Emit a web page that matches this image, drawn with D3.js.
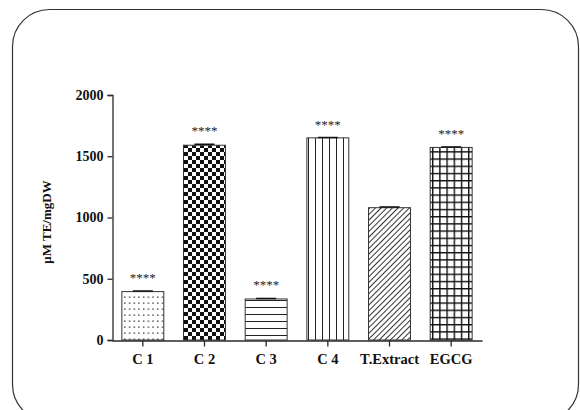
<!DOCTYPE html>
<html>
<head>
<meta charset="utf-8">
<script src="https://cdn.jsdelivr.net/npm/d3@7"></script>
<style>
  html, body { margin: 0; padding: 0; background: #fff; }
  svg { display: block; }
  text { font-family: "Liberation Serif", "Times New Roman", serif; }
</style>
</head>
<body>
<svg id="chart" width="580" height="410"></svg>
<script>
// Antioxidant capacity per sample (µM TE/mg DW)
const categories = ["C 1", "C 2", "C 3", "C 4", "T.Extract", "EGCG"];
const values     = [395, 1590, 335, 1650, 1080, 1572];
const errors     = [5, 8, 4, 3, 6, 4];
const stars      = ["****", "****", "****", "****", "", "****"];
const fills      = ["dots", "checker", "hlines", "vlines", "diag", "grid"];
const yTicks     = [0, 500, 1000, 1500, 2000];

const svg = d3.select("#chart");
const ink = "#2a2a2a";
const serif = "'Liberation Serif', 'Times New Roman', serif";

// Rounded frame around the figure
svg.append("rect")
  .attr("x", 12.5).attr("y", 9.5)
  .attr("width", 566).attr("height", 412)
  .attr("rx", 37).attr("ry", 37)
  .attr("fill", "none").attr("stroke", "#333").attr("stroke-width", 1.2);

// Fill patterns for the bars
const defs = svg.append("defs");

const pDots = defs.append("pattern").attr("id", "dots")
  .attr("patternUnits", "userSpaceOnUse").attr("width", 4.7).attr("height", 6);
pDots.append("rect").attr("width", 4.7).attr("height", 6).attr("fill", "#fff");
pDots.append("rect").attr("x", 2).attr("y", 2.5).attr("width", 1.3).attr("height", 1.3).attr("fill", "#222");

const pChk = defs.append("pattern").attr("id", "checker")
  .attr("patternUnits", "userSpaceOnUse").attr("width", 8).attr("height", 8);
pChk.append("rect").attr("width", 8).attr("height", 8).attr("fill", "#fff");
pChk.append("rect").attr("width", 4).attr("height", 4).attr("fill", "#111");
pChk.append("rect").attr("x", 4).attr("y", 4).attr("width", 4).attr("height", 4).attr("fill", "#111");

const pH = defs.append("pattern").attr("id", "hlines")
  .attr("patternUnits", "userSpaceOnUse").attr("width", 7).attr("height", 7);
pH.append("rect").attr("width", 7).attr("height", 7).attr("fill", "#fff");
pH.append("line").attr("x1", 0).attr("x2", 7).attr("y1", 6.5).attr("y2", 6.5)
  .attr("stroke", "#222").attr("stroke-width", 1);

const pV = defs.append("pattern").attr("id", "vlines")
  .attr("patternUnits", "userSpaceOnUse").attr("width", 7).attr("height", 7);
pV.append("rect").attr("width", 7).attr("height", 7).attr("fill", "#fff");
pV.append("line").attr("y1", 0).attr("y2", 7).attr("x1", 0.5).attr("x2", 0.5)
  .attr("stroke", "#222").attr("stroke-width", 1);

const pD = defs.append("pattern").attr("id", "diag")
  .attr("patternUnits", "userSpaceOnUse").attr("width", 4).attr("height", 4)
  .attr("patternTransform", "rotate(45)");
pD.append("rect").attr("width", 4).attr("height", 4).attr("fill", "#fff");
pD.append("line").attr("x1", 0.5).attr("x2", 0.5).attr("y1", 0).attr("y2", 4)
  .attr("stroke", "#333").attr("stroke-width", 1);

const pG = defs.append("pattern").attr("id", "grid")
  .attr("patternUnits", "userSpaceOnUse").attr("width", 7.2).attr("height", 7.2);
pG.append("rect").attr("width", 7.2).attr("height", 7.2).attr("fill", "#fff");
pG.append("line").attr("x1", 0).attr("x2", 7.2).attr("y1", 0.7).attr("y2", 0.7)
  .attr("stroke", "#111").attr("stroke-width", 1.4);
pG.append("line").attr("y1", 0).attr("y2", 7.2).attr("x1", 0.7).attr("x2", 0.7)
  .attr("stroke", "#111").attr("stroke-width", 1.4);

// Scales
const x = d3.scaleBand().domain(categories).range([112, 482])
  .paddingInner(0.32).paddingOuter(0.16);
const y = d3.scaleLinear().domain([0, 2000]).range([340, 95]);

// Bars
const data = categories.map((c, i) => ({
  c, v: values[i], e: errors[i], s: stars[i], f: fills[i]
}));

svg.append("g").selectAll("rect").data(data).join("rect")
  .attr("x", d => x(d.c))
  .attr("y", d => y(d.v))
  .attr("width", x.bandwidth())
  .attr("height", d => y(0) - y(d.v))
  .attr("fill", d => `url(#${d.f})`)
  .attr("stroke", "#333").attr("stroke-width", 1);

// Error bars (upper half)
const eb = svg.append("g").attr("stroke", "#111").attr("stroke-width", 1.5);
eb.selectAll("line.stem").data(data).join("line").attr("class", "stem")
  .attr("x1", d => x(d.c) + x.bandwidth() / 2).attr("x2", d => x(d.c) + x.bandwidth() / 2)
  .attr("y1", d => y(d.v)).attr("y2", d => y(d.v + d.e));
eb.selectAll("line.cap").data(data).join("line").attr("class", "cap")
  .attr("x1", d => x(d.c) + x.bandwidth() / 2 - 10).attr("x2", d => x(d.c) + x.bandwidth() / 2 + 10)
  .attr("y1", d => y(d.v + d.e)).attr("y2", d => y(d.v + d.e));

// Significance markers
svg.append("g").selectAll("text").data(data.filter(d => d.s)).join("text")
  .attr("x", d => x(d.c) + x.bandwidth() / 2)
  .attr("y", d => y(d.v + d.e) - 9)
  .attr("text-anchor", "middle")
  .attr("font-family", serif)
  .attr("font-size", 13).attr("fill", "#222")
  .text(d => d.s);

// Y axis
const yAxis = svg.append("g").attr("transform", "translate(112.5,0)")
  .call(d3.axisLeft(y).tickValues(yTicks).tickSize(5).tickPadding(4).tickFormat(d3.format("d")));
yAxis.select(".domain").attr("stroke", ink).attr("stroke-width", 1.3);
yAxis.selectAll(".tick line").attr("stroke", ink).attr("stroke-width", 1.3);
yAxis.selectAll(".tick text")
  .attr("font-family", serif)
  .attr("font-weight", "bold").attr("font-size", 14).attr("fill", "#111");

// X axis
const xAxis = svg.append("g").attr("transform", "translate(0,340.5)")
  .call(d3.axisBottom(x).tickSize(6).tickSizeOuter(0).tickPadding(7));
xAxis.select(".domain").attr("stroke", ink).attr("stroke-width", 1.3);
xAxis.selectAll(".tick line").attr("stroke", ink).attr("stroke-width", 1.3);
xAxis.selectAll(".tick text")
  .attr("font-family", serif)
  .attr("font-weight", "bold").attr("font-size", 14.5).attr("fill", "#111");

// Y axis title
svg.append("text")
  .attr("transform", "translate(51,222) rotate(-90)")
  .attr("text-anchor", "middle")
  .attr("font-family", serif)
  .attr("font-weight", "bold").attr("font-size", 13).attr("fill", "#111")
  .text("μM TE/mgDW");
</script>
</body>
</html>
